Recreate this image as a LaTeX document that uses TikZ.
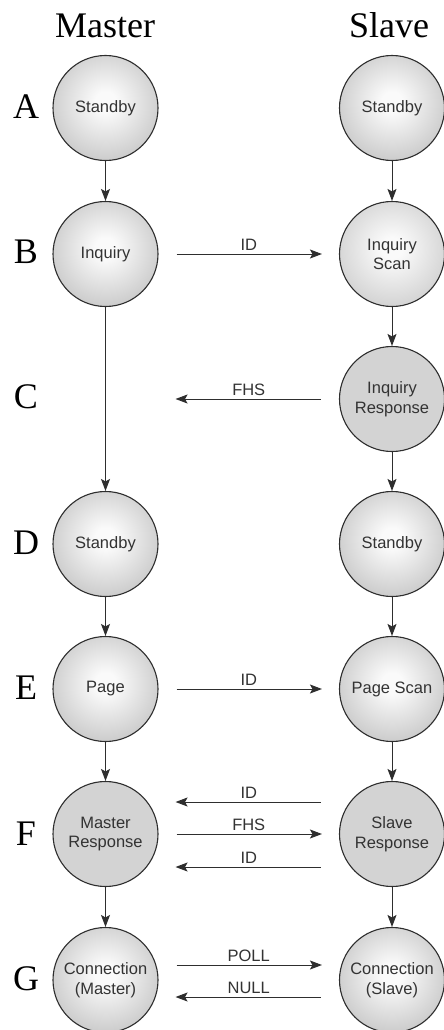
\documentclass[tikz,border=0pt]{standalone}
\usepackage{fontspec}
\setmainfont{Liberation Serif}
\newfontfamily\labelfont{Liberation Sans}
\usetikzlibrary{arrows.meta}

\definecolor{ink}{HTML}{2E2E2E}
\definecolor{textgray}{HTML}{333333}
\definecolor{flatgray}{HTML}{D3D3D3}
\definecolor{orbedge}{HTML}{8C8C8C}
\definecolor{orbmid}{HTML}{CACACA}
\definecolor{orbcore}{HTML}{FAFAFA}
\definecolor{softedge}{HTML}{A4A4A4}
\definecolor{softmid}{HTML}{D2D2D2}

% glossy sphere look for the state circles
\pgfdeclareradialshading{orb}{\pgfpoint{0bp}{3bp}}{color(0bp)=(orbcore); color(5bp)=(orbcore); color(28bp)=(orbmid); color(52bp)=(orbedge); color(100bp)=(orbedge)}
\pgfdeclareradialshading{orbsoft}{\pgfpoint{0bp}{3bp}}{color(0bp)=(orbcore); color(5bp)=(orbcore); color(28bp)=(softmid); color(52bp)=(softedge); color(100bp)=(softedge)}

\tikzset{
  state/.style={circle, minimum size=105pt, inner sep=0pt, draw=ink, line width=1.1pt,
    font=\labelfont\fontsize{16.5}{19.5}\selectfont, text=textgray, align=center},
  orbstate/.style={state, shading=orb},
  softstate/.style={state, shading=orbsoft},
  flatstate/.style={state, fill=flatgray},
  flow/.style={-{Stealth[length=12pt,width=9pt,inset=2.5pt]}, draw=ink, line width=1pt},
  hmsg/.style={flow, shorten <=18pt, shorten >=17pt},
  msg/.style={font=\labelfont\fontsize{16.5}{19}\selectfont, text=textgray, above=1pt, inner sep=2pt},
  head/.style={font=\fontsize{36}{40}\selectfont, text=black, anchor=base, inner sep=0pt},
}

\begin{document}
\begin{tikzpicture}[x=1pt,y=-1pt]
\fill[white] (0,0) rectangle (444,1030);
\useasboundingbox (0,0) rectangle (444,1030);

% column headings
\node[head] (hmaster) at (105,38) {Master};
\node[head] (hslave) at (389,38) {Slave};

% row letters
\node[head] (la) at (26,118) {A};
\node[head] (lb) at (26,263) {B};
\node[head] (lc) at (26,408) {C};
\node[head] (ld) at (26,554) {D};
\node[head] (le) at (26,699) {E};
\node[head] (lf) at (26,845) {F};
\node[head] (lg) at (26,990) {G};

% master states
\node[orbstate] (ma) at (105.5,108) {Standby};
\node[orbstate] (mb) at (105.5,254) {Inquiry};
\node[orbstate] (md) at (105.5,544) {Standby};
\node[orbstate] (me) at (105.5,689) {Page};
\node[flatstate] (mf) at (105.5,834) {Master\\Response};
\node[orbstate] (mg) at (105.5,980) {Connection\\(Master)};

% slave states
\node[orbstate] (sa) at (392,108) {Standby};
\node[softstate] (sb) at (392,254) {Inquiry\\Scan};
\node[flatstate] (sc) at (392,399) {Inquiry\\Response};
\node[orbstate] (sd) at (392,544) {Standby};
\node[orbstate] (se) at (392,689) {Page Scan};
\node[flatstate] (sf) at (392,834) {Slave\\Response};
\node[orbstate] (sg) at (392,980) {Connection\\(Slave)};

% state transitions
\draw[flow] (ma) -- (mb);
\draw[flow] (mb) -- (md);
\draw[flow] (md) -- (me);
\draw[flow] (me) -- (mf);
\draw[flow] (mf) -- (mg);
\draw[flow] (sa) -- (sb);
\draw[flow] (sb) -- (sc);
\draw[flow] (sc) -- (sd);
\draw[flow] (sd) -- (se);
\draw[flow] (se) -- (sf);
\draw[flow] (sf) -- (sg);

% packets exchanged
\draw[hmsg] (mb) -- node[msg] {ID} (sb);
\coordinate (mcx) at (mb.east |- sc.west);
\draw[hmsg] (sc.west) -- node[msg] {FHS} (mcx);
\draw[hmsg] (me) -- node[msg] {ID} (se);
\draw[hmsg] ([yshift=32pt]sf.west) -- node[msg] {ID} ([yshift=32pt]mf.east);
\draw[hmsg] (mf) -- node[msg] {FHS} (sf);
\draw[hmsg] ([yshift=-33pt]sf.west) -- node[msg] {ID} ([yshift=-33pt]mf.east);
\draw[hmsg] ([yshift=15pt]mg.east) -- node[msg] {POLL} ([yshift=15pt]sg.west);
\draw[hmsg] ([yshift=-17pt]sg.west) -- node[msg] {NULL} ([yshift=-17pt]mg.east);
\end{tikzpicture}
\end{document}
